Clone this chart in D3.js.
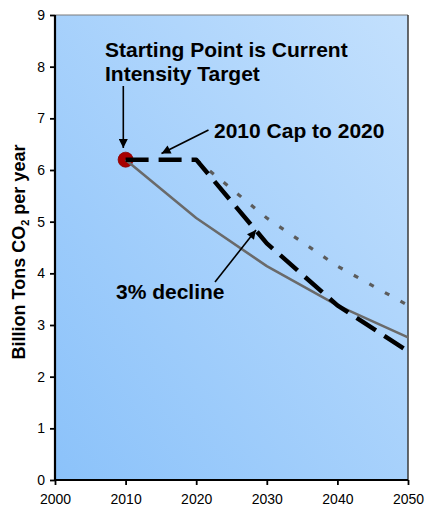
<!DOCTYPE html>
<html>
<head>
<meta charset="utf-8">
<script src="https://cdn.jsdelivr.net/npm/d3@7"></script>
<style>
  html, body { margin: 0; padding: 0; background: #fff; }
  svg { display: block; font-family: "Liberation Sans", Arial, sans-serif; }
</style>
</head>
<body>
<svg id="chart" width="425" height="510"></svg>
<script>
// Emission paths, billion tons CO2 per year
const years = [2010, 2020, 2030, 2040, 2050];
const declineFrom2010 = [6.2, 5.07, 4.14, 3.38, 2.76];      // solid grey
const capThenSteep = [6.2, 6.2, 4.58, 3.38, 2.49];          // heavy dashes
const capThenGentle = [null, 6.2, 5.07, 4.14, 3.38];        // grey dots
const startPoint = { year: 2010, value: 6.2 };

const xTicks = [2000, 2010, 2020, 2030, 2040, 2050];
const yTicks = [0, 1, 2, 3, 4, 5, 6, 7, 8, 9];

const svg = d3.select("#chart");
const plot = { left: 55, right: 408, top: 15, bottom: 480 };

const x = d3.scaleLinear().domain([2000, 2050]).range([plot.left, plot.right]);
const y = d3.scaleLinear().domain([0, 9]).range([plot.bottom, plot.top]);

// plot-area fill
const defs = svg.append("defs");
const grad = defs.append("linearGradient")
  .attr("id", "bg").attr("x1", 0).attr("y1", 1).attr("x2", 1).attr("y2", 0);
grad.append("stop").attr("offset", 0).attr("stop-color", "#8bc2fa");
grad.append("stop").attr("offset", 1).attr("stop-color", "#c3e0fd");

svg.append("rect")
  .attr("x", plot.left).attr("y", plot.top)
  .attr("width", plot.right - plot.left).attr("height", plot.bottom - plot.top)
  .attr("fill", "url(#bg)");

// frame on top and right
svg.append("line").attr("x1", plot.left).attr("x2", plot.right)
  .attr("y1", plot.top).attr("y2", plot.top)
  .attr("stroke", "#7a7a7a").attr("stroke-width", 1);
svg.append("line").attr("x1", plot.right).attr("x2", plot.right)
  .attr("y1", plot.top).attr("y2", plot.bottom)
  .attr("stroke", "#3a3a3a").attr("stroke-width", 1.5);

// starting point marker
svg.append("circle")
  .attr("cx", x(startPoint.year)).attr("cy", y(startPoint.value)).attr("r", 7.5)
  .attr("fill", "#a80000").attr("stroke", "#8a0000").attr("stroke-width", 0.8);

const series = (vals) => years.map((yr, i) => ({ yr, v: vals[i] })).filter(d => d.v != null);
const line = d3.line().x(d => x(d.yr)).y(d => y(d.v));

svg.append("path").datum(series(capThenGentle))
  .attr("d", line).attr("fill", "none")
  .attr("stroke", "#5c5c5c").attr("stroke-width", 3.2)
  .attr("stroke-dasharray", "5,12.8");

svg.append("path").datum(series(declineFrom2010))
  .attr("d", line).attr("fill", "none")
  .attr("stroke", "#6a6a6a").attr("stroke-width", 2.5)
  .attr("stroke-linejoin", "round");

svg.append("path").datum(series(capThenSteep))
  .attr("d", line).attr("fill", "none")
  .attr("stroke", "#000").attr("stroke-width", 4.5)
  .attr("stroke-linejoin", "round")
  .attr("stroke-dasharray", "23,10");

// axes
const yAxis = svg.append("g").attr("transform", `translate(${plot.left},0)`)
  .call(d3.axisLeft(y).tickValues(yTicks).tickSize(5).tickPadding(5).tickFormat(d3.format("d")));
const xAxis = svg.append("g").attr("transform", `translate(0,${plot.bottom})`)
  .call(d3.axisBottom(x).tickValues(xTicks).tickSize(5).tickPadding(9).tickFormat(d3.format("d")));

[yAxis, xAxis].forEach(g => {
  g.select(".domain").attr("stroke", "#000").attr("stroke-width", 2.2);
  g.selectAll(".tick line").attr("stroke", "#000").attr("stroke-width", 1.8);
  g.selectAll(".tick text").attr("fill", "#000")
    .style("font-family", '"Liberation Sans", Arial, sans-serif').style("font-size", "14px");
});
xAxis.select(".domain").attr("d", `M${plot.left},0H${plot.right}`);
yAxis.select(".domain").attr("d", `M0,${plot.bottom}V${plot.top}`);

// y axis title with subscript
const yt = svg.append("text")
  .attr("transform", "translate(25,252) rotate(-90)")
  .attr("text-anchor", "middle")
  .style("font-weight", "bold").style("font-size", "18px").attr("fill", "#000");
yt.append("tspan").text("Billion Tons CO");
yt.append("tspan").text("2").style("font-size", "11px").attr("dy", 4);
yt.append("tspan").text(" per year").attr("dy", -4);

// annotations
const note = (txt, tx, ty) => svg.append("text")
  .attr("x", tx).attr("y", ty).text(txt)
  .style("font-weight", "bold").style("font-size", "21px").attr("fill", "#000");
note("Starting Point is Current", 105, 56.5);
note("Intensity Target", 105, 80.5);
note("2010 Cap to 2020", 214, 137.5);
note("3% decline", 116, 298.5);

// arrows
defs.append("marker")
  .attr("id", "head").attr("viewBox", "0 0 10 10")
  .attr("refX", 10).attr("refY", 5)
  .attr("markerWidth", 10).attr("markerHeight", 9)
  .attr("markerUnits", "userSpaceOnUse")
  .attr("orient", "auto")
  .append("path").attr("d", "M0,0L10,5L0,10Z").attr("fill", "#000");

const arrow = (x1, y1, x2, y2) => svg.append("line")
  .attr("x1", x1).attr("y1", y1).attr("x2", x2).attr("y2", y2)
  .attr("stroke", "#000").attr("stroke-width", 1.6)
  .attr("marker-end", "url(#head)");
arrow(123.3, 86, 123.3, 148);
arrow(208.5, 130, 161.5, 153.5);
arrow(215, 282, 256, 230);
</script>
</body>
</html>
